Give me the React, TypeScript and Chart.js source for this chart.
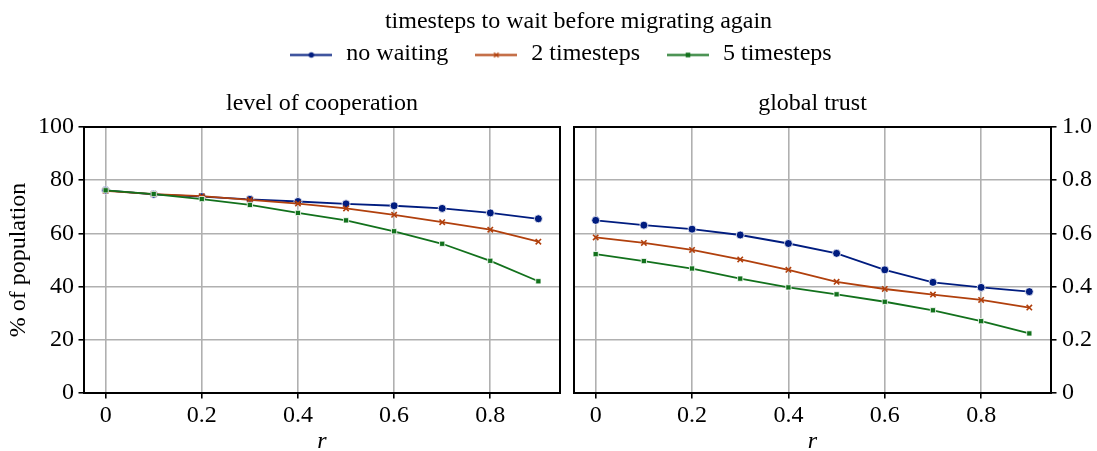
import React, { useEffect, useRef } from 'react';
import { Chart, registerables } from 'chart.js';

Chart.register(...registerables);

// ---------------- data ----------------
const rValues = [0, 0.1, 0.2, 0.3, 0.4, 0.5, 0.6, 0.7, 0.8, 0.9];
const seriesLabels = ['no waiting', '2 timesteps', '5 timesteps'];

const coopNoWaiting = [76.2, 74.7, 73.8, 72.8, 72.0, 71.1, 70.4, 69.4, 67.7, 65.5];
const coop2Steps = [76.0, 74.8, 74.0, 72.6, 71.2, 69.4, 67.0, 64.2, 61.4, 56.9];
const coop5Steps = [76.2, 74.8, 72.9, 70.7, 67.7, 64.9, 60.8, 56.1, 49.7, 42.0];

const trustNoWaiting = [0.649, 0.631, 0.616, 0.594, 0.562, 0.525, 0.463, 0.416, 0.397, 0.381];
const trust2Steps = [0.585, 0.564, 0.538, 0.502, 0.463, 0.418, 0.391, 0.370, 0.350, 0.321];
const trust5Steps = [0.522, 0.496, 0.468, 0.430, 0.397, 0.371, 0.343, 0.311, 0.270, 0.224];

const xTicks = [0, 0.2, 0.4, 0.6, 0.8];
const coopTicks = [0, 20, 40, 60, 80, 100];
const trustTicks = [0, 0.2, 0.4, 0.6, 0.8, 1.0];

const legendTitle = 'timesteps to wait before migrating again';
const leftTitle = 'level of cooperation';
const rightTitle = 'global trust';
const yAxisTitle = '% of population';
const xAxisTitle = 'r';

// ---------------- styles ----------------
const colors = ['#001c7f', '#b1400d', '#12711c'];
const pointStyles = ['circle', 'crossRot', 'rect'];
const FONT = "'Liberation Serif', 'Times New Roman', serif";
const FS = 24;

Chart.defaults.font.family = FONT;
Chart.defaults.color = '#000';

const fmtDec = (v: number) => (v === 0 ? '0' : Number(v).toFixed(1));

function makeDatasets(values: number[][]) {
  return values.map((vals, i) => ({
    label: seriesLabels[i],
    data: rValues.map((x, j) => ({ x, y: vals[j] })),
    borderColor: colors[i],
    backgroundColor: colors[i],
    borderWidth: 1.8,
    pointStyle: pointStyles[i],
    pointRadius: i === 0 ? 4 : i === 1 ? 3.8 : 3.7,
    pointBackgroundColor: colors[i],
    pointBorderColor: i === 1 ? colors[i] : '#ffffff',
    pointBorderWidth: i === 1 ? 1.6 : 0.8,
    tension: 0,
    fill: false,
    order: 3 - i,
  }));
}

function makeLegendIcon(i: number) {
  const c = document.createElement('canvas');
  c.width = 42;
  c.height = 14;
  const ctx = c.getContext('2d')!;
  const cy = 8.5;
  ctx.strokeStyle = colors[i];
  ctx.lineWidth = 2;
  ctx.beginPath();
  ctx.moveTo(0, cy);
  ctx.lineTo(42, cy);
  ctx.stroke();
  const cx = 21;
  ctx.fillStyle = colors[i];
  if (i === 0) {
    ctx.beginPath();
    ctx.arc(cx, cy, 2.7, 0, Math.PI * 2);
    ctx.fill();
  } else if (i === 1) {
    ctx.lineWidth = 1.3;
    ctx.beginPath();
    ctx.moveTo(cx - 2.3, cy - 2.3);
    ctx.lineTo(cx + 2.3, cy + 2.3);
    ctx.moveTo(cx - 2.3, cy + 2.3);
    ctx.lineTo(cx + 2.3, cy - 2.3);
    ctx.stroke();
  } else {
    ctx.fillRect(cx - 2.3, cy - 2.3, 4.6, 4.6);
  }
  return c;
}

const framePlugin = {
  id: 'frame',
  afterDraw(chart: any) {
    const { ctx, chartArea } = chart;
    const { left, top, right, bottom } = chartArea;
    ctx.save();
    ctx.strokeStyle = '#000';
    ctx.lineWidth = 2;
    ctx.strokeRect(left, top, right - left, bottom - top);
    ctx.restore();
  },
};

const gridOpts = {
  color: '#b0b0b0',
  lineWidth: 1.6,
  tickColor: '#000',
  tickLength: 5.5,
  tickWidth: 1.6,
};

function xScale() {
  return {
    type: 'linear',
    min: -0.045,
    max: 0.945,
    afterBuildTicks: (s: any) => {
      s.ticks = xTicks.map((v) => ({ value: v }));
    },
    afterFit: (s: any) => {
      s.height = 58;
    },
    ticks: {
      callback: (v: any) => fmtDec(v),
      font: { size: FS },
      color: '#000',
      padding: 3,
      maxRotation: 0,
      autoSkip: false,
    },
    grid: gridOpts,
    border: { display: false },
    title: {
      display: true,
      text: xAxisTitle,
      font: { size: FS, style: 'italic', lineHeight: 0.8 },
      color: '#000',
      padding: 0,
    },
  };
}

export default function App() {
  const leftRef = useRef<HTMLCanvasElement>(null);
  const rightRef = useRef<HTMLCanvasElement>(null);

  useEffect(() => {
    document.body.style.margin = '0';
    const icons = [0, 1, 2].map((i) => makeLegendIcon(i));

    const left = new Chart(leftRef.current!, {
      type: 'line',
      data: { datasets: makeDatasets([coopNoWaiting, coop2Steps, coop5Steps]) as any },
      options: {
        animation: false,
        responsive: false,
        events: [],
        layout: { padding: { left: 23, top: 16.5, right: 0, bottom: 0 } },
        scales: {
          x: xScale() as any,
          y: {
            type: 'linear',
            position: 'left',
            min: 0,
            max: 100,
            afterBuildTicks: (s: any) => {
              s.ticks = coopTicks.map((v) => ({ value: v }));
            },
            afterFit: (s: any) => {
              s.width = 61;
            },
            ticks: { callback: (v: any) => String(v), font: { size: FS }, color: '#000', padding: 4.5 },
            grid: gridOpts,
            border: { display: false },
            title: {
              display: true,
              text: yAxisTitle,
              font: { size: FS },
              color: '#000',
              padding: { top: -18.5, bottom: 0 },
            },
          },
          pad: {
            type: 'linear',
            position: 'right',
            display: true,
            ticks: { display: false },
            grid: { display: false },
            border: { display: false },
            afterFit: (s: any) => {
              s.width = 537;
            },
          },
        } as any,
        plugins: {
          legend: {
            display: true,
            position: 'top',
            align: 'center',
            weight: 2000,
            maxHeight: 51,
            labels: {
              usePointStyle: true,
              pointStyleWidth: 46,
              padding: 25,
              color: '#000',
              font: { size: FS },
              generateLabels: (chart: any) =>
                chart.data.datasets.map((ds: any, i: number) => ({
                  text: ds.label,
                  pointStyle: icons[i],
                  fillStyle: 'rgba(0,0,0,0)',
                  strokeStyle: 'rgba(0,0,0,0)',
                  lineWidth: 0,
                  hidden: false,
                  datasetIndex: i,
                  fontColor: '#000',
                })),
            },
          } as any,
          subtitle: {
            display: true,
            text: leftTitle,
            position: 'top',
            fullSize: false,
            color: '#000',
            font: { size: FS, weight: 'normal' },
            padding: { top: 21.7, bottom: 9 },
          } as any,
          title: { display: false },
          tooltip: { enabled: false },
        },
      },
      plugins: [framePlugin],
    });

    const right = new Chart(rightRef.current!, {
      type: 'line',
      data: { datasets: makeDatasets([trustNoWaiting, trust2Steps, trust5Steps]) as any },
      options: {
        animation: false,
        responsive: false,
        events: [],
        layout: { padding: { left: 60, top: 0, right: 0, bottom: 0 } },
        scales: {
          x: xScale() as any,
          y: {
            type: 'linear',
            position: 'right',
            min: 0,
            max: 1,
            afterBuildTicks: (s: any) => {
              s.ticks = trustTicks.map((v) => ({ value: v }));
            },
            afterFit: (s: any) => {
              s.width = 46;
            },
            ticks: { callback: (v: any) => fmtDec(v), font: { size: FS }, color: '#000', padding: 5.5 },
            grid: gridOpts,
            border: { display: false },
          },
          pad: {
            type: 'linear',
            position: 'left',
            display: true,
            ticks: { display: false },
            grid: { display: false },
            border: { display: false },
            afterFit: (s: any) => {
              s.width = 514;
            },
          },
        } as any,
        plugins: {
          legend: { display: false },
          title: {
            display: true,
            text: legendTitle,
            position: 'top',
            fullSize: true,
            color: '#000',
            font: { size: FS, weight: 'normal' },
            padding: { top: 7.6, bottom: 0 },
          } as any,
          subtitle: {
            display: true,
            text: rightTitle,
            position: 'top',
            fullSize: false,
            color: '#000',
            font: { size: FS, weight: 'normal' },
            padding: { top: 52.8, bottom: 9 },
          } as any,
          tooltip: { enabled: false },
        },
      },
      plugins: [framePlugin],
    });

    return () => {
      left.destroy();
      right.destroy();
    };
  }, []);

  return (
    <div style={{ position: 'absolute', left: 0, top: 0, width: 1097, height: 451, background: '#fff' }}>
      <canvas ref={leftRef} width={1097} height={451} style={{ position: 'absolute', left: 0, top: 0 }} />
      <canvas ref={rightRef} width={1097} height={451} style={{ position: 'absolute', left: 0, top: 0 }} />
    </div>
  );
}
